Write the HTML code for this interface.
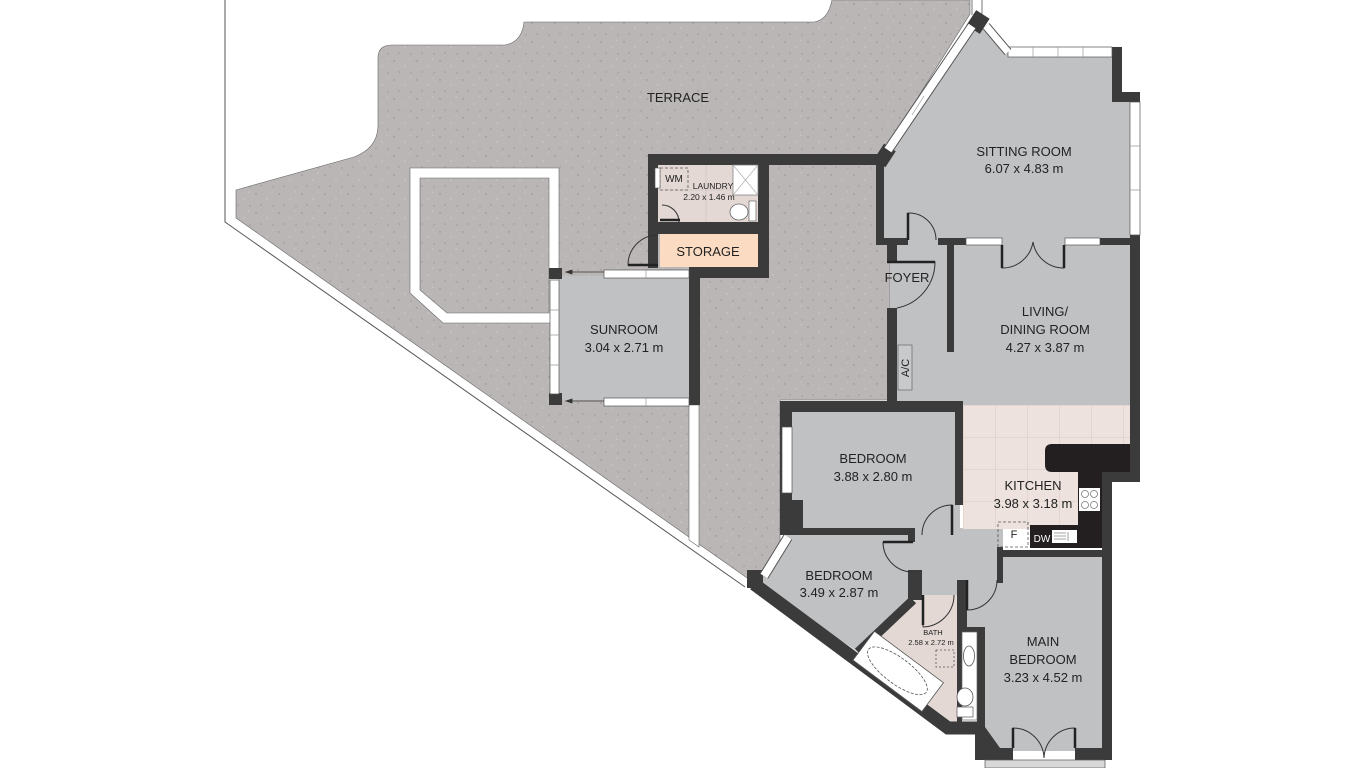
<!DOCTYPE html>
<html><head><meta charset="utf-8"><style>
html,body{margin:0;padding:0;background:#fff;}
svg{display:block;}
text{font-family:"Liberation Sans",sans-serif;fill:#222;text-anchor:middle;}
</style></head><body>
<svg width="1366" height="768" viewBox="0 0 1366 768" xmlns="http://www.w3.org/2000/svg">
<defs>
<pattern id="sp" width="23" height="19" patternUnits="userSpaceOnUse">
<rect width="23" height="19" fill="#bab6b6"/>
<circle cx="3" cy="4" r="0.7" fill="#8f8b8b"/><circle cx="14" cy="9" r="0.6" fill="#d8d5d5"/>
<circle cx="8" cy="15" r="0.6" fill="#918d8d"/><circle cx="19" cy="2" r="0.5" fill="#dcdada"/>
<circle cx="20" cy="16" r="0.6" fill="#8f8b8b"/>
</pattern>
<pattern id="tile" x="963" y="405" width="32" height="32" patternUnits="userSpaceOnUse">
<rect width="32" height="32" fill="#ede2dd"/>
<path d="M0 0H32M0 0V32" stroke="#d9cbc5" stroke-width="1"/>
</pattern>
</defs>

<path d="M225 0V222L745 587" fill="none" stroke="#555" stroke-width="1"/>

<path d="M236 190L354 157Q378 148 378 125L378 58Q378 45 392 45L505 45Q522 42 524 22L814 22Q828 20 832 0L970 0L970 14L880 158L880 240L890 240L890 400L780 400L780 585L757 585L236 218Z" fill="url(#sp)" stroke="#666" stroke-width="0.6"/>
<path d="M689 405H699V547L689 540Z" fill="#fff" stroke="#666" stroke-width="0.6"/>
<path d="M972 0V15M982 0V15" stroke="#555" stroke-width="0.8"/>

<path d="M410 168H559V323H443L410 293Z" fill="#fff" stroke="#666" stroke-width="0.6"/>
<path d="M420 178H549V313H447L420 290Z" fill="url(#sp)" stroke="#666" stroke-width="0.6"/>

<g fill="#bfc1c3">
<path d="M882 165L975 22L1008 53L1112 57L1112 102L1130 102L1130 240L882 240Z"/>
<rect x="890" y="240" width="242" height="166"/>
<rect x="559" y="276" width="131" height="124"/>
<rect x="790" y="410" width="170" height="120"/>
<rect x="905" y="528" width="98" height="72"/>
<rect x="960" y="528" width="43" height="100"/>
<path d="M787 533L910 533L910 600L858 652L760 585Z"/>
<rect x="983" y="553" width="122" height="198"/>
</g>
<path d="M963 405H1130V482H1102V529H963Z" fill="url(#tile)"/>
<rect x="658" y="165" width="100" height="57" fill="#e3d8d4"/>
<path d="M659 190H758M706 165V222" stroke="#d2c6c1" stroke-width="0.8"/>
<rect x="660" y="234" width="98" height="33" fill="#fbdcc2"/>
<path d="M920 595L960 595L960 722L948 724L862 654Z" fill="#e3d8d4"/>

<g fill="#3b3b3b">
<rect x="648" y="154" width="234" height="11"/>
<rect x="648" y="154" width="10" height="114"/>
<rect x="648" y="222" width="120" height="12"/>
<rect x="758" y="154" width="11" height="124"/>
<rect x="689" y="267" width="80" height="11"/>
<rect x="689" y="267" width="11" height="138"/>
<rect x="876" y="154" width="8" height="91"/>
<rect x="876" y="238" width="32" height="7"/>
<rect x="938" y="238" width="28" height="7"/>
<rect x="1100" y="238" width="40" height="7"/>
<rect x="1112" y="47" width="10" height="55"/>
<rect x="1112" y="92" width="28" height="10"/>
<rect x="1130" y="235" width="10" height="247"/>
<rect x="1102" y="472" width="38" height="10"/>
<rect x="1102" y="472" width="10" height="288"/>
<rect x="887" y="240" width="10" height="22"/>
<rect x="887" y="308" width="10" height="104"/>
<rect x="947" y="240" width="7" height="112"/>
<rect x="780" y="401" width="183" height="11"/>
<rect x="780" y="401" width="12" height="134"/>
<rect x="780" y="500" width="23" height="32"/>
<rect x="955" y="401" width="8" height="104"/>
<rect x="780" y="528" width="135" height="7"/>
<rect x="908" y="528" width="7" height="14"/>
<rect x="908" y="570" width="14" height="30"/>
<rect x="957" y="580" width="10" height="48"/>
<rect x="957" y="627" width="28" height="5"/>
<rect x="957" y="627" width="5" height="95"/>
<rect x="977" y="627" width="8" height="120"/>
<rect x="997" y="547" width="6" height="36"/>
<rect x="997" y="550" width="113" height="7"/>
<rect x="985" y="748" width="28" height="12"/>
<rect x="1075" y="748" width="37" height="12"/>
<path d="M975 727H985L1000 748V760H975Z"/>
<rect x="878" y="146" width="14" height="19" transform="rotate(33 885 155)"/>
<rect x="970" y="13" width="16" height="18" transform="rotate(33 978 22)"/>
<rect x="747" y="570" width="16" height="18"/>
<rect x="549" y="268" width="13" height="11"/>
<rect x="549" y="393" width="13" height="12"/>
</g>
<path d="M754 584L948 728L985 728" fill="none" stroke="#3b3b3b" stroke-width="13"/>
<path d="M913 600L858 652" stroke="#3b3b3b" stroke-width="9"/>

<path d="M1052 444H1130V472H1102V548H1030V525H1078V472H1052Q1045 472 1045 465V451Q1045 444 1052 444Z" fill="#231f20"/>
<rect x="1079" y="488" width="21" height="23" fill="#fff"/>
<g fill="none" stroke="#777" stroke-width="0.8"><circle cx="1085" cy="494" r="3.5"/><circle cx="1094" cy="494" r="3.5"/><circle cx="1085" cy="505" r="3.5"/><circle cx="1094" cy="505" r="3.5"/></g>
<rect x="1052" y="530" width="25" height="13" fill="#fff"/>
<path d="M1054 533H1066M1054 536H1066M1054 539H1066M1068 532V541" stroke="#888" stroke-width="0.8"/>
<text x="1042" y="542" style="font-size:10px;fill:#fff">DW</text>
<rect x="998" y="522" width="30" height="25" fill="none" stroke="#555" stroke-width="0.8" stroke-dasharray="3 2"/>
<text x="1014" y="538" style="font-size:11px">F</text>

<g fill="#fff" stroke="#555" stroke-width="0.7">
<rect x="1008" y="47" width="104" height="10"/>
<rect x="1130" y="102" width="10" height="133"/>
<rect x="966" y="238" width="36" height="7"/>
<rect x="1065" y="238" width="35" height="7"/>
<rect x="782" y="427" width="10" height="66"/>
<rect x="604" y="270" width="85" height="8"/>
<rect x="604" y="398" width="85" height="8"/>
<rect x="550" y="280" width="9" height="114"/>
<rect x="985" y="760" width="120" height="8" fill="#d8d8d8"/>
</g>
<path d="M888 150L972 26" stroke="#555" stroke-width="10"/>
<path d="M888 150L972 26" stroke="#fff" stroke-width="8"/>
<path d="M986 26L1008 52" stroke="#555" stroke-width="9"/>
<path d="M986 26L1008 52" stroke="#fff" stroke-width="7"/>
<path d="M764 576L788 537" stroke="#555" stroke-width="10"/>
<path d="M764 576L788 537" stroke="#fff" stroke-width="8"/>
<g stroke="#999" stroke-width="0.7">
<path d="M1033 47V57M1058 47V57M1083 47V57M1130 146H1140M1130 190H1140M550 310H559M550 335H559M550 365H559M646 270V278M646 398V406"/>
<path d="M912 115L924 96"/>
</g>

<g fill="none" stroke="#333" stroke-width="1">
<path d="M908 240V213A27 27 0 0 1 936 240"/>
<path d="M887 262H935A47 47 0 0 1 897 308"/>
<path d="M1002 245V268A31 31 0 0 0 1033 242A31 31 0 0 0 1064 268V245"/>
<path d="M952 535V505A30 30 0 0 0 922 535"/>
<path d="M883 542H913M883 542A30 30 0 0 0 913 572"/>
<path d="M923 595V627M954 595A32 32 0 0 1 923 627"/>
<path d="M967 580V610A30 30 0 0 0 997 580"/>
<path d="M1013 748V728A31 31 0 0 1 1044 758A31 31 0 0 1 1075 728V748"/>
<path d="M658 235A30 30 0 0 0 628 265H658"/>
<path d="M662 205A17 17 0 0 1 679 222"/>
</g>
<g stroke="#222" stroke-width="2.5"><path d="M908 240V213M887 262H935M1002 245V268M1064 245V268M952 505V535M883 542H913M923 595V625M967 580V610M1013 728V748M1075 728V748M628 265H658M660 220H680"/></g>

<g stroke="#333" stroke-width="0.8" fill="#333">
<path d="M604 272H568"/><path d="M566 272L572 270V274Z"/>
<path d="M604 401H568"/><path d="M566 401L572 399V403Z"/>
</g>

<rect x="660" y="168" width="28" height="22" fill="none" stroke="#555" stroke-width="0.8" stroke-dasharray="3 2"/>
<rect x="655" y="168" width="5" height="20" fill="#fff" stroke="#555" stroke-width="0.6"/>
<text x="674" y="182" style="font-size:10px">WM</text>
<rect x="733" y="165" width="25" height="30" fill="#fff" stroke="#777" stroke-width="0.7"/>
<path d="M733 165L758 195M758 165L733 195" stroke="#aaa" stroke-width="0.6"/>
<ellipse cx="739" cy="212" rx="9" ry="8" fill="#fff" stroke="#666" stroke-width="0.8"/>
<rect x="749" y="201" width="7" height="20" fill="#fff" stroke="#666" stroke-width="0.7"/>
<rect x="962" y="632" width="15" height="88" fill="#fff" stroke="#666" stroke-width="0.7"/>
<ellipse cx="969" cy="656" rx="5.5" ry="10" fill="#fff" stroke="#555" stroke-width="0.8"/>
<ellipse cx="965" cy="697" rx="8" ry="9" fill="#fff" stroke="#555" stroke-width="0.8"/>
<rect x="957" y="707" width="16" height="10" fill="#fff" stroke="#555" stroke-width="0.7"/>
<g transform="rotate(36.7 898 670)">
<rect x="856" y="653" width="86" height="36" fill="#fff" stroke="#555" stroke-width="0.8"/>
<ellipse cx="898" cy="671" rx="36" ry="13" fill="none" stroke="#555" stroke-width="0.8" stroke-dasharray="3 1.5"/>
</g>
<rect x="936" y="650" width="18" height="17" fill="none" stroke="#555" stroke-width="0.8" stroke-dasharray="2 2"/>
<rect x="898" y="345" width="14" height="45" fill="#c8c9cb" stroke="#666" stroke-width="0.7"/>
<text transform="translate(909 368) rotate(-90)" style="font-size:11px">A/C</text>

<g style="font-size:13px">
<text x="678" y="102">TERRACE</text>
<text x="1024" y="156">SITTING ROOM</text>
<text x="1024" y="173">6.07 x 4.83 m</text>
<text x="907" y="282">FOYER</text>
<text x="1045" y="316">LIVING/</text>
<text x="1045" y="334">DINING ROOM</text>
<text x="1045" y="352">4.27 x 3.87 m</text>
<text x="624" y="334">SUNROOM</text>
<text x="624" y="352">3.04 x 2.71 m</text>
<text x="708" y="256">STORAGE</text>
<text x="873" y="463">BEDROOM</text>
<text x="873" y="481">3.88 x 2.80 m</text>
<text x="1033" y="490">KITCHEN</text>
<text x="1033" y="508">3.98 x 3.18 m</text>
<text x="839" y="580">BEDROOM</text>
<text x="839" y="597">3.49 x 2.87 m</text>
<text x="1043" y="646">MAIN</text>
<text x="1043" y="664">BEDROOM</text>
<text x="1043" y="682">3.23 x 4.52 m</text>
</g>
<text x="713" y="189" style="font-size:8.5px">LAUNDRY</text>
<text x="709" y="200" style="font-size:8.5px">2.20 x 1.46 m</text>
<text x="933" y="635" style="font-size:7.5px">BATH</text>
<text x="931" y="645" style="font-size:7.5px">2.58 x 2.72 m</text>
</svg>
</body></html>
